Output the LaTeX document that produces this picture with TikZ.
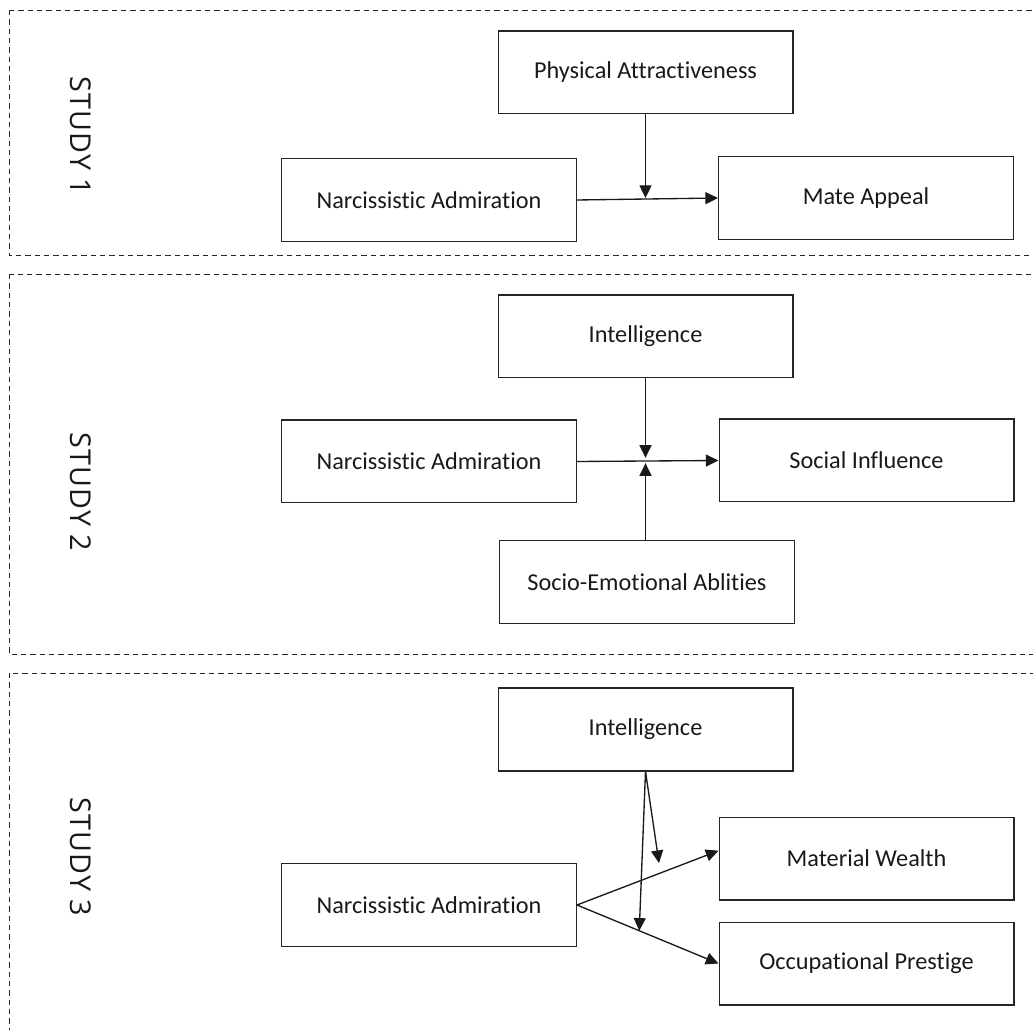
\documentclass[tikz,border=0pt]{standalone}
\usepackage{fontspec}
\setmainfont[Ligatures={NoCommon}]{Carlito}
\newfontfamily\studyfont[LetterSpace=4]{Open Sans}
\usetikzlibrary{arrows.meta,calc}

\tikzset{
  var/.style={draw=black!85, line width=1pt, minimum width=221pt, minimum height=62pt, inner sep=0pt, text=black!90, font=\fontsize{18.2}{21}\selectfont},
  panel/.style={draw=black!85, line width=0.7pt, dash pattern=on 4pt off 3pt},
  link/.style={line width=1pt, draw=black!90, -{Triangle[length=9.5pt,width=9pt]}},
  studylabel/.style={rotate=-90, text=black!90, font=\studyfont\fontsize{21.5}{25}\selectfont}
}

\begin{document}
\begin{tikzpicture}[x=0.75pt,y=-0.75pt]
  \useasboundingbox (0,0) rectangle (1033,1030);
  \clip (0,0) rectangle (1033,1030);

  % study 1
  \draw[panel] (9,10) rectangle (1050,255);
  \node[studylabel] (lab1) at (81,136) {STUDY 1};
  \node[var] (pa1) at (645.5,72.5) {Physical Attractiveness};
  \node[var] (na1) at (429,200) {Narcissistic Admiration};
  \node[var] (ma1) at (866,198) {Mate Appeal};
  \draw[link] (na1.east) -- (ma1.west);
  \draw[link] (pa1.south) -- (pa1.south |- ma1.west);

  % study 2
  \draw[panel] (9,274) rectangle (1050,654);
  \node[studylabel] (lab2) at (81,492) {STUDY 2};
  \node[var] (int2) at (645.5,336.5) {Intelligence};
  \node[var] (na2) at (429,461.5) {Narcissistic Admiration};
  \node[var] (si2) at (866.5,460.5) {Social Influence};
  \node[var] (se2) at (647,582) {Socio-Emotional Ablities};
  \draw[link] (na2.east) -- (si2.west);
  \draw[link, shorten >=2pt] (int2.south) -- (int2.south |- si2.west);
  \draw[link, shorten >=2pt] (se2.north -| int2.south) -- (int2.south |- si2.west);

  % study 3
  \draw[panel] (9,673) rectangle (1050,1060);
  \node[studylabel] (lab3) at (81,857) {STUDY 3};
  \node[var] (int3) at (645.5,729.5) {Intelligence};
  \node[var] (na3) at (429,905) {Narcissistic Admiration};
  \node[var] (mw3) at (866.5,858.5) {Material Wealth};
  \node[var] (op3) at (866.5,963.5) {Occupational Prestige};
  \draw[link] (na3.east) -- (mw3.177);
  \draw[link] (na3.east) -- (op3.west);
  \draw[link] (int3.south) -- ($(na3.east)!0.44!(op3.west)$);
  \draw[link, shorten >=7.5pt] (int3.south) -- ($(na3.east)!0.59!(mw3.177)$);
\end{tikzpicture}
\end{document}
